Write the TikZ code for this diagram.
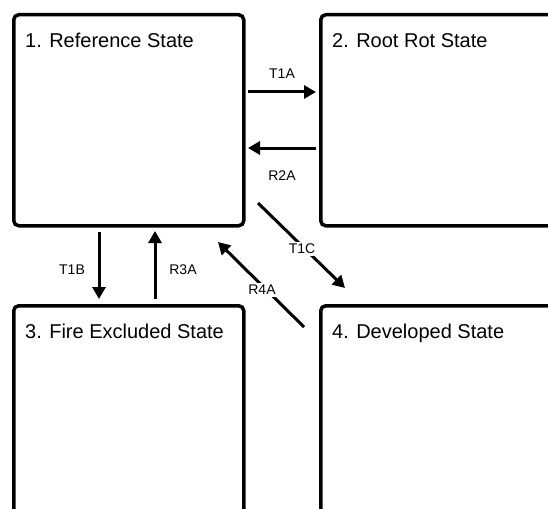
\documentclass[tikz,border=0pt]{standalone}
\usepackage{fontspec}
\setmainfont{Liberation Sans}
\usetikzlibrary{arrows.meta}
\begin{document}
\begin{tikzpicture}[x=1pt,y=-1pt,
  statebox/.style={draw, line width=3.5pt, rounded corners=5pt, anchor=north west, inner sep=0pt},
  title/.style={anchor=base west, font=\fontsize{20}{22}\selectfont, inner sep=0pt},
  conn/.style={line width=3pt, -{Triangle[length=12pt,width=13pt]}},
  lbl/.style={font=\fontsize{14}{16}\selectfont, inner sep=2pt, fill=white}]
\useasboundingbox (0,0) rectangle (548,508);
\clip (0,0) rectangle (548,508);
% state boxes
\node[statebox, minimum width=230pt, minimum height=211pt] (b1) at (12,13) {};
\node[statebox, minimum width=260pt, minimum height=211pt] (b2) at (319,13) {};
\node[statebox, minimum width=230pt, minimum height=260pt] (b3) at (12,304) {};
\node[statebox, minimum width=260pt, minimum height=260pt] (b4) at (319,304) {};
% titles
\node[title] (t1) at (25,48) {1. Reference State};
\node[title] (t2) at (332,48) {2. Root Rot State};
\node[title] (t3) at (25,338) {3. Fire Excluded State};
\node[title] (t4) at (332,338) {4. Developed State};
% connector end points
\coordinate (a1s) at (248,92);  \coordinate (a1e) at (316,92);
\coordinate (a2s) at (316,148); \coordinate (a2e) at (248,148);
\coordinate (b1s) at (99,232);  \coordinate (b1e) at (99,299);
\coordinate (b2s) at (155,299); \coordinate (b2e) at (155,231);
\coordinate (c1s) at (258,203); \coordinate (c1e) at (345,288);
\coordinate (c2s) at (304,327); \coordinate (c2e) at (218,242);
% connectors
\draw[conn] (a1s) -- (a1e);
\draw[conn] (a2s) -- (a2e);
\draw[conn] (b1s) -- (b1e);
\draw[conn] (b2s) -- (b2e);
\draw[conn] (c1s) -- (c1e);
\draw[conn] (c2s) -- (c2e);
% labels
\node[lbl] (l1) at (282,74) {T1A};
\node[lbl] (l2) at (282,176) {R2A};
\node[lbl] (l3) at (72,270) {T1B};
\node[lbl] (l4) at (183,270) {R3A};
\node[lbl] (l5) at (302,249) {T1C};
\node[lbl] (l6) at (262,290) {R4A};
\end{tikzpicture}
\end{document}
